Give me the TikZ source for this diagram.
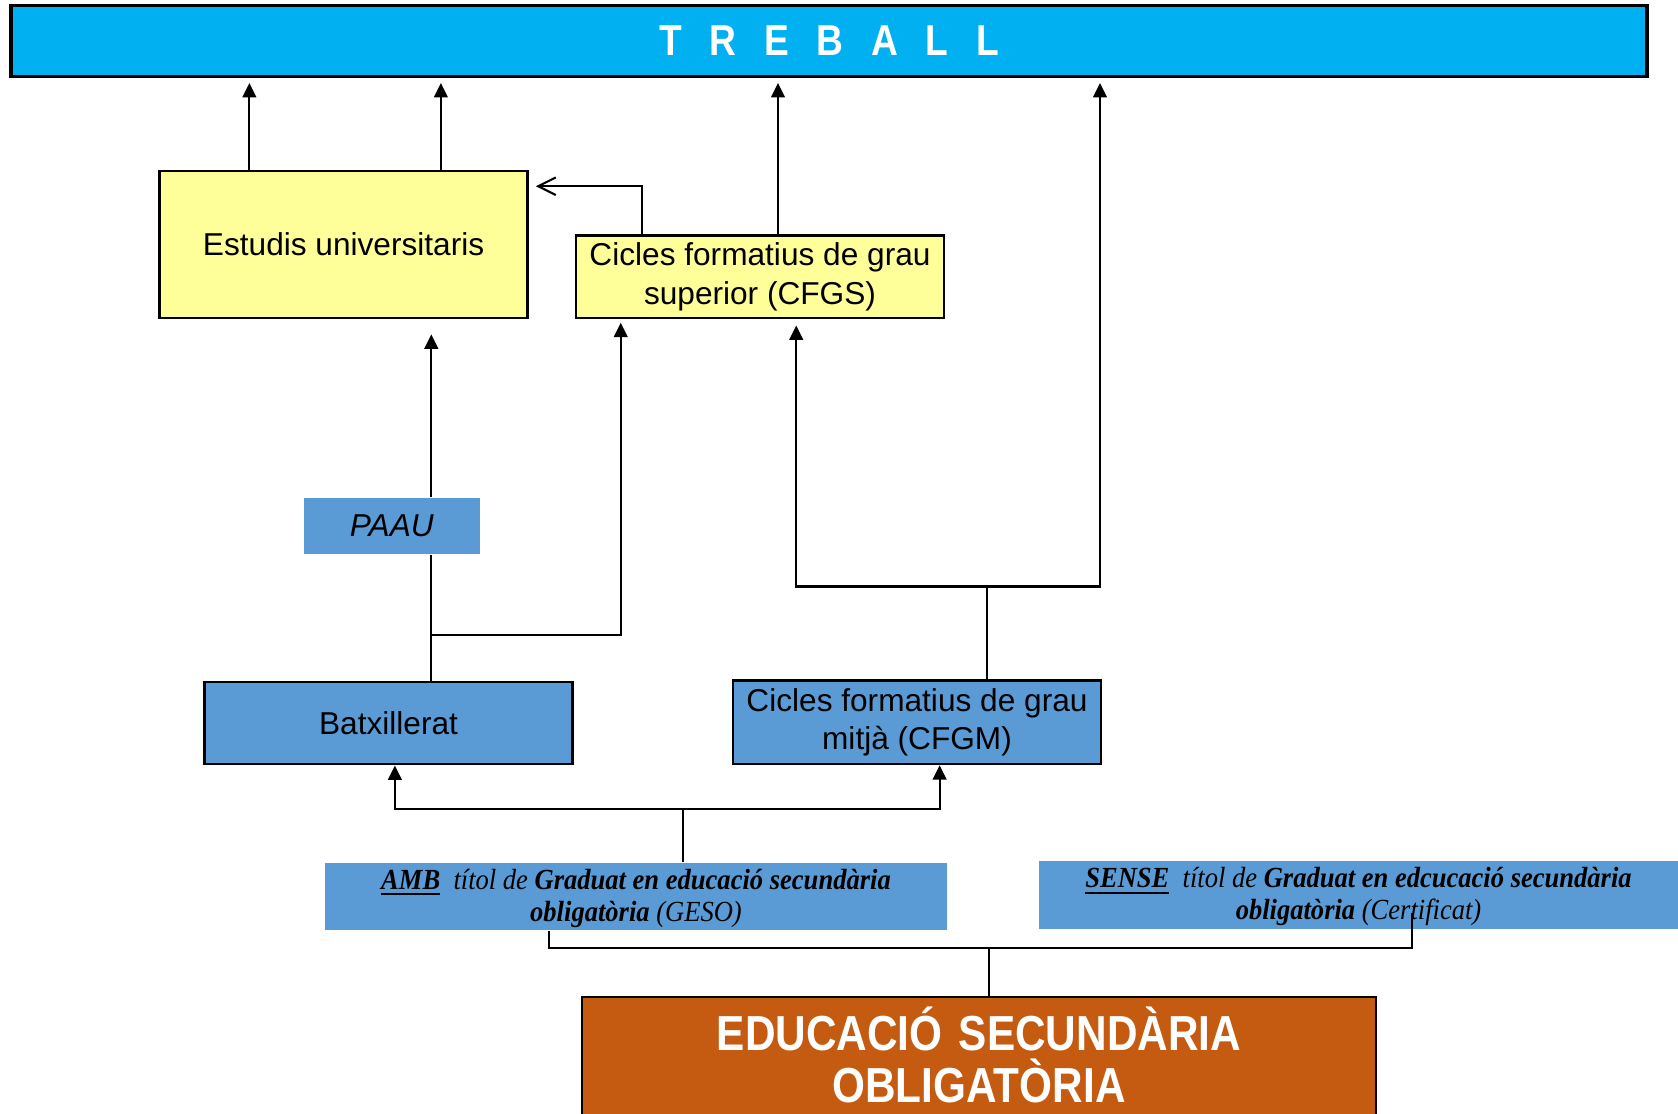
\documentclass[tikz,border=0pt]{standalone}
\usepackage{fontspec}
\setmainfont{Liberation Sans}
\newfontfamily\narrowfont[FakeStretch=0.86]{Liberation Sans}
\newfontfamily\timesfont[FakeStretch=0.91]{Liberation Serif}
\usetikzlibrary{arrows.meta}
\definecolor{trebcyan}{HTML}{00B0F0}
\definecolor{paleyellow}{HTML}{FFFF99}
\definecolor{midblue}{HTML}{5B9BD5}
\definecolor{rust}{HTML}{C55A11}

\begin{document}
\begin{tikzpicture}[line width=0.6pt,
    box/.style={draw=black,line width=0.7pt,minimum width=3.68cm,inner sep=0pt,
      align=center,font=\fontsize{9}{11}\selectfont},
    yellowbox/.style={box,fill=paleyellow},
    bluebox/.style={box,fill=midblue},
    titlebox/.style={fill=midblue,inner sep=0pt,align=center,text height=0.585cm,
      text depth=0.09cm,font=\timesfont\itshape\fontsize{8.3}{9.1}\selectfont},
    arr/.style={-{Triangle[length=4.1pt,width=3.9pt]}},
    twoarr/.style={{Triangle[length=4.1pt,width=3.9pt]}-{Triangle[length=4.1pt,width=3.9pt]}}]
    \useasboundingbox (0,0) rectangle (16.78,11.13);

    % boxes
    \node[draw,line width=1pt,fill=trebcyan,minimum width=16.36cm,minimum height=0.706cm,
      inner sep=0pt,text=white,font=\narrowfont\bfseries\fontsize{12.3}{14}\selectfont]
      (treball) at (8.29,10.72) {\addfontfeature{LetterSpace=64}TREBALL};
    \node[yellowbox,minimum height=1.47cm] (estudis) at (3.436,8.685) {Estudis universitaris};
    \node[yellowbox,minimum height=0.826cm] (cfgs) at (7.6,8.363)
      {Cicles formatius de grau\\superior (CFGS)};
    \node[fill=midblue,minimum width=1.755cm,minimum height=0.568cm,inner sep=0pt,
      font=\fontsize{9}{11}\selectfont\itshape] (paau) at (3.918,5.87) {PAAU};
    \node[bluebox,minimum height=0.825cm] (batx) at (3.885,3.90) {Batxillerat};
    \node[bluebox,minimum height=0.834cm] (cfgm) at (9.17,3.907)
      {Cicles formatius de grau\\mitjà (CFGM)};
    \node[titlebox,minimum width=6.22cm] (amb) at (6.36,2.167)
      {\textbf{\underline{AMB}}\ \ títol de \textbf{Graduat en educació secundària}\\
       \textbf{obligatòria} (GESO)};
    \node[titlebox,minimum width=6.39cm] (sense) at (13.585,2.18)
      {\textbf{\underline{SENSE}}\ \ títol de \textbf{Graduat en edcucació secundària}\\
       \textbf{obligatòria} (Certificat)};
    \node[draw,line width=0.7pt,fill=rust,text=white,inner sep=0pt,text width=7.94cm,
      align=center,text height=0.533cm,text depth=1cm,anchor=north,
      font=\narrowfont\bfseries\fontsize{14}{14.85}\selectfont]
      (eso) at (9.79,1.17) {EDUCACIÓ SECUNDÀRIA\\OBLIGATÒRIA};

    % junctions
    \foreach \n/\x/\y in {u1/2.494/9.8,u2/4.409/9.8,us/7.78/9.8,jc/6.42/9.268,
        jb/4.313/4.784,jbr/6.207/4.784,jm/9.867/5.265,jml/7.962/5.265,jmr/11.00/5.265,
        ja/6.828/3.04,jal/3.949/3.04,jar/9.396/3.04,
        je/9.889/1.648,jel/5.49/1.648,jer/14.116/1.648,jet/14.116/2.00}{%
      \coordinate (\n) at (\x,\y);
    }

    % connectors
    \draw[arr,shorten >=1.4pt] (estudis.north -| u1) -- (treball.south -| u1);
    \draw[arr,shorten >=1.4pt] (estudis.north -| u2) -- (treball.south -| u2);
    \draw[arr,shorten >=1.4pt] (cfgs.north -| us) -- (treball.south -| us);
    \draw[-{Straight Barb[length=5pt,width=5pt]},shorten >=2pt]
      (cfgs.north -| jc) -- (jc) -- (estudis.east |- jc);
    \draw (batx.north -| jb) -- (paau.south -| jb);
    \draw[arr,shorten >=4.3pt] (paau.north -| jb) -- (estudis.south -| jb);
    \draw[arr,shorten >=1pt] (jb) -- (jbr) -- (cfgs.south -| jbr);
    \draw (cfgm.north -| jm) -- (jm);
    \draw[twoarr,shorten <=1.8pt,shorten >=1.4pt]
      (cfgs.south -| jml) -- (jml) -- (jmr) -- (treball.south -| jmr);
    \draw (amb.north -| ja) -- (ja);
    \draw[twoarr] (batx.south -| jal) -- (jal) -- (jar) -- (cfgm.south -| jar);
    \draw (eso.north -| je) -- (je);
    \draw (amb.south -| jel) -- (jel) -- (jer) -- (jet);
  \end{tikzpicture}
\end{document}
